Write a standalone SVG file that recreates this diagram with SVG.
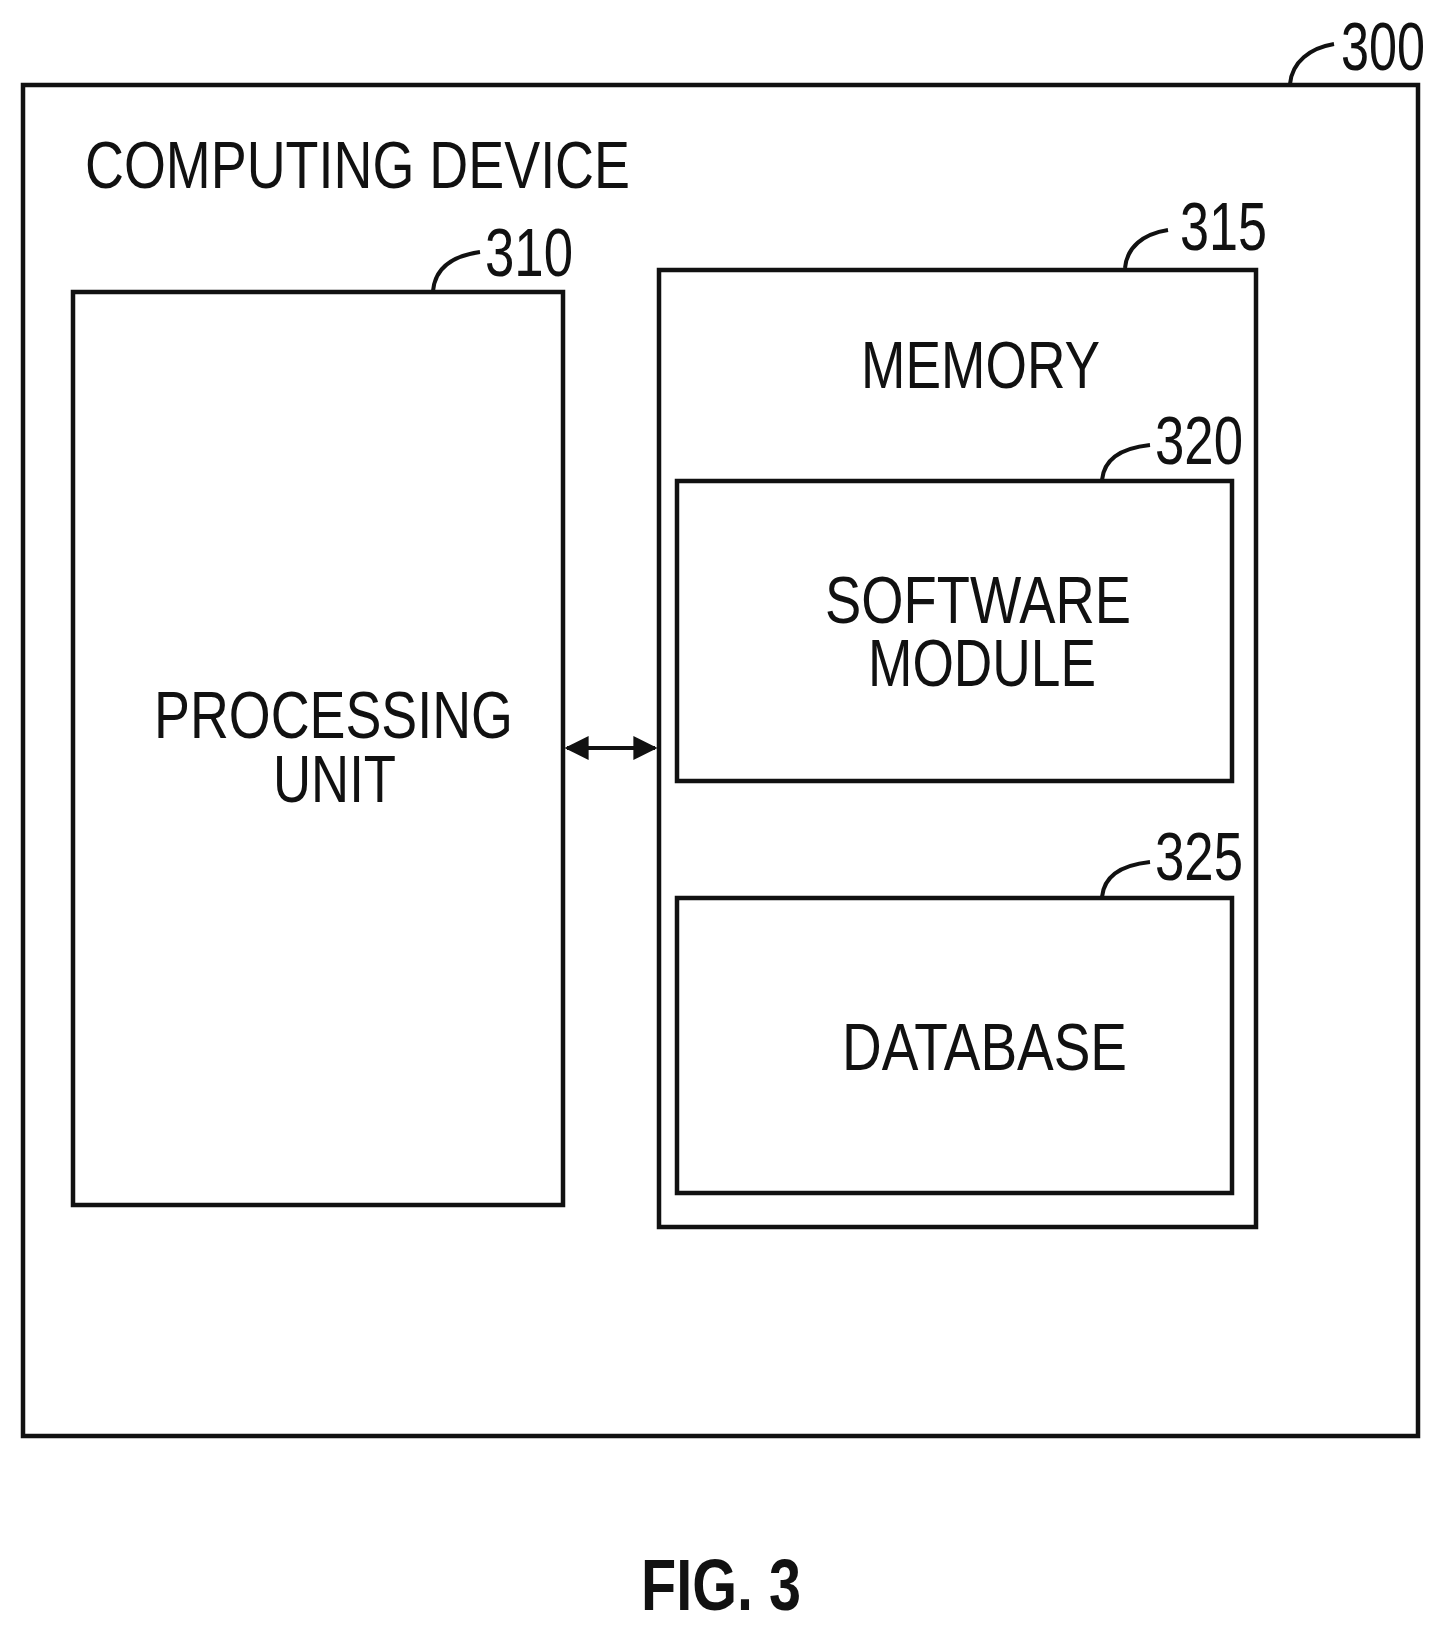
<svg xmlns="http://www.w3.org/2000/svg" width="1451" height="1635" viewBox="0 0 1451 1635">
<style>
.box{fill:none;stroke:#111;stroke-width:4.5}
.ld{fill:none;stroke:#111;stroke-width:4}
.t{font-family:"Liberation Sans",Arial,sans-serif;font-size:66px;fill:#111}
.n{font-family:"Liberation Sans",Arial,sans-serif;font-size:68px;fill:#111}
</style>
<defs>
<marker id="ah" viewBox="0 0 10 10" refX="9" refY="5" markerWidth="6" markerHeight="6" orient="auto-start-reverse"><path d="M0,0 L10,5 L0,10 z" fill="#111"/></marker>
</defs>
<rect width="1451" height="1635" fill="#fff"/>
<g id="n300">
<rect class="box" x="23" y="85" width="1395" height="1351"/>
<text class="t" x="85" y="188" textLength="545" lengthAdjust="spacingAndGlyphs">COMPUTING DEVICE</text>
<path class="ld" d="M1290,84 C1292,62 1310,48 1334,44"/>
<text class="n" x="1341" y="70" textLength="84" lengthAdjust="spacingAndGlyphs">300</text>
</g>
<g id="n310">
<rect class="box" x="73" y="292" width="490" height="913"/>
<path class="ld" d="M433,291 C435,268 452,256 480,252"/>
<text class="n" x="485" y="276" textLength="88" lengthAdjust="spacingAndGlyphs">310</text>
<text class="t" x="154" y="738" textLength="359" lengthAdjust="spacingAndGlyphs">PROCESSING</text>
<text class="t" x="273" y="802" textLength="123" lengthAdjust="spacingAndGlyphs">UNIT</text>
</g>
<g id="n315">
<rect class="box" x="659" y="270" width="597" height="957"/>
<path class="ld" d="M1125,268 C1127,247 1143,234 1168,230"/>
<text class="n" x="1180" y="250" textLength="87" lengthAdjust="spacingAndGlyphs">315</text>
<text class="t" x="861" y="388" textLength="239" lengthAdjust="spacingAndGlyphs">MEMORY</text>
</g>
<g id="n320">
<rect class="box" x="677" y="481" width="555" height="300"/>
<path class="ld" d="M1102,480 C1104,459 1122,448 1150,445"/>
<text class="n" x="1155" y="464" textLength="88" lengthAdjust="spacingAndGlyphs">320</text>
<text class="t" x="825" y="623" textLength="306" lengthAdjust="spacingAndGlyphs">SOFTWARE</text>
<text class="t" x="868" y="686" textLength="228" lengthAdjust="spacingAndGlyphs">MODULE</text>
</g>
<g id="n325">
<rect class="box" x="677" y="898" width="555" height="295"/>
<path class="ld" d="M1102,897 C1104,876 1122,865 1150,862"/>
<text class="n" x="1155" y="880" textLength="88" lengthAdjust="spacingAndGlyphs">325</text>
<text class="t" x="842" y="1070" textLength="285" lengthAdjust="spacingAndGlyphs">DATABASE</text>
</g>
<g id="connectors">
<line class="ld" x1="567" y1="748" x2="655" y2="748" marker-start="url(#ah)" marker-end="url(#ah)"/>
</g>
<text x="641" y="1610" font-family="Liberation Sans,Arial,sans-serif" font-weight="bold" font-size="72" fill="#111" textLength="160" lengthAdjust="spacingAndGlyphs">FIG. 3</text>
</svg>
